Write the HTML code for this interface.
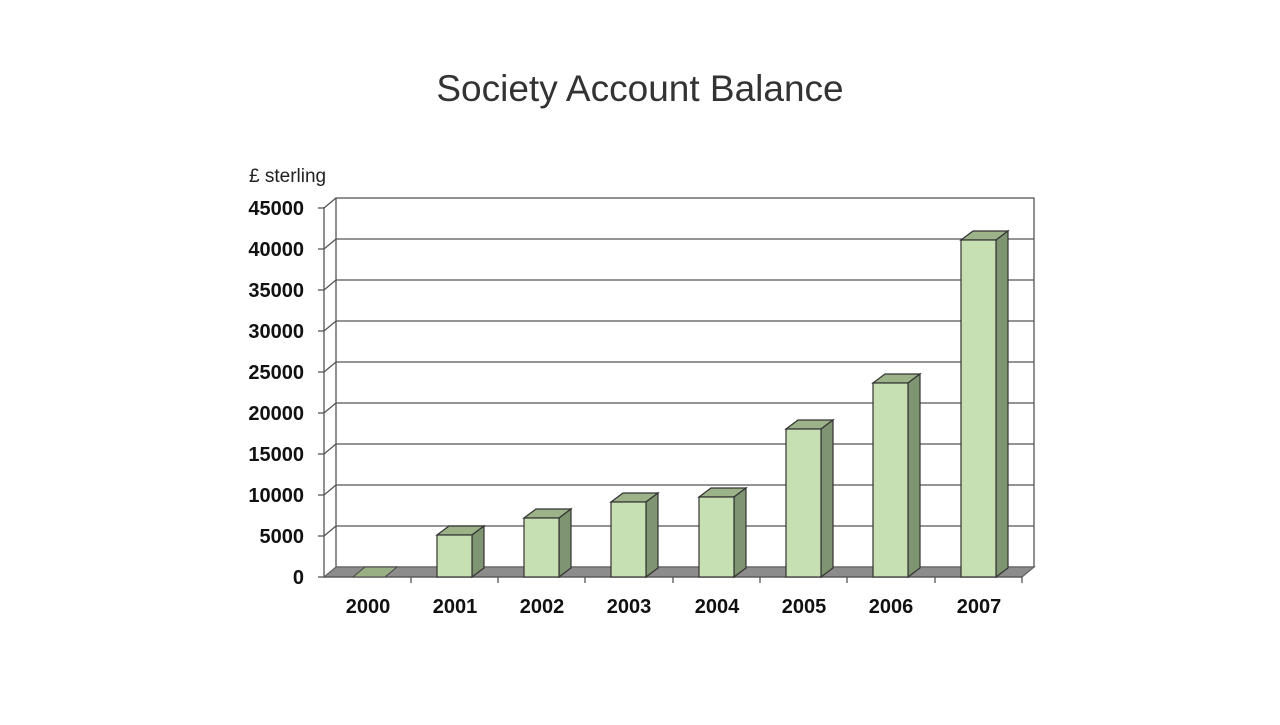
<!DOCTYPE html>
<html><head><meta charset="utf-8"><style>
body{margin:0;background:#fff;}
svg text{font-family:"Liberation Sans",Arial,sans-serif;}
</style></head><body>
<svg width="1280" height="720" xmlns="http://www.w3.org/2000/svg">
<rect width="1280" height="720" fill="#fff"/>
<text x="640" y="101" text-anchor="middle" font-size="37" fill="#333">Society Account Balance</text>
<text x="249" y="182" font-size="19" fill="#222">£ sterling</text>
<g id="grid" stroke="#555" stroke-width="1.3" fill="none">
<!-- back wall -->
<rect x="336" y="198" width="698" height="369"/>
<!-- floor -->
<polygon points="324,577 336,567 1034,567 1022,577" fill="#8c8c8c" stroke="#666"/>
<line x1="324" y1="207" x2="324" y2="577"/>
</g>
<g stroke="#555" stroke-width="1.3">
<line x1="324" y1="536" x2="336" y2="526"/><line x1="336" y1="526" x2="1034" y2="526"/>
<line x1="324" y1="495" x2="336" y2="485"/><line x1="336" y1="485" x2="1034" y2="485"/>
<line x1="324" y1="454" x2="336" y2="444"/><line x1="336" y1="444" x2="1034" y2="444"/>
<line x1="324" y1="413" x2="336" y2="403"/><line x1="336" y1="403" x2="1034" y2="403"/>
<line x1="324" y1="372" x2="336" y2="362"/><line x1="336" y1="362" x2="1034" y2="362"/>
<line x1="324" y1="331" x2="336" y2="321"/><line x1="336" y1="321" x2="1034" y2="321"/>
<line x1="324" y1="290" x2="336" y2="280"/><line x1="336" y1="280" x2="1034" y2="280"/>
<line x1="324" y1="249" x2="336" y2="239"/><line x1="336" y1="239" x2="1034" y2="239"/>
<line x1="324" y1="208" x2="336" y2="198"/>
<line x1="318" y1="577" x2="324" y2="577"/><line x1="318" y1="536" x2="324" y2="536"/><line x1="318" y1="495" x2="324" y2="495"/><line x1="318" y1="454" x2="324" y2="454"/><line x1="318" y1="413" x2="324" y2="413"/><line x1="318" y1="372" x2="324" y2="372"/><line x1="318" y1="331" x2="324" y2="331"/><line x1="318" y1="290" x2="324" y2="290"/><line x1="318" y1="249" x2="324" y2="249"/><line x1="318" y1="208" x2="324" y2="208"/>
<line x1="324" y1="577" x2="1022" y2="577"/>
<line x1="411" y1="577" x2="411" y2="583"/><line x1="498" y1="577" x2="498" y2="583"/><line x1="585" y1="577" x2="585" y2="583"/><line x1="673" y1="577" x2="673" y2="583"/><line x1="760" y1="577" x2="760" y2="583"/><line x1="847" y1="577" x2="847" y2="583"/><line x1="935" y1="577" x2="935" y2="583"/><line x1="1022" y1="577" x2="1022" y2="583"/>
</g>
<!-- 2000 flat -->
<polygon points="353,577 365,567 397,567 385,577" fill="#98b084" stroke="#444" stroke-width="1"/>
<g stroke="#333" stroke-width="1.2">
<!-- bar template: front x..x+35, top y -->
<polygon points="437,535 449,526 484,526 472,535" fill="#9cb38a"/><polygon points="472,535 484,526 484,568 472,577" fill="#7f9470"/><rect x="437" y="535" width="35" height="42" fill="#c6e0b4"/>
<polygon points="524,518 536,509 571,509 559,518" fill="#9cb38a"/><polygon points="559,518 571,509 571,568 559,577" fill="#7f9470"/><rect x="524" y="518" width="35" height="59" fill="#c6e0b4"/>
<polygon points="611,502 623,493 658,493 646,502" fill="#9cb38a"/><polygon points="646,502 658,493 658,568 646,577" fill="#7f9470"/><rect x="611" y="502" width="35" height="75" fill="#c6e0b4"/>
<polygon points="699,497 711,488 746,488 734,497" fill="#9cb38a"/><polygon points="734,497 746,488 746,568 734,577" fill="#7f9470"/><rect x="699" y="497" width="35" height="80" fill="#c6e0b4"/>
<polygon points="786,429 798,420 833,420 821,429" fill="#9cb38a"/><polygon points="821,429 833,420 833,568 821,577" fill="#7f9470"/><rect x="786" y="429" width="35" height="148" fill="#c6e0b4"/>
<polygon points="873,383 885,374 920,374 908,383" fill="#9cb38a"/><polygon points="908,383 920,374 920,568 908,577" fill="#7f9470"/><rect x="873" y="383" width="35" height="194" fill="#c6e0b4"/>
<polygon points="961,240 973,231 1008,231 996,240" fill="#9cb38a"/><polygon points="996,240 1008,231 1008,568 996,577" fill="#7f9470"/><rect x="961" y="240" width="35" height="337" fill="#c6e0b4"/>
</g>
<g font-size="20" font-weight="bold" fill="#111" text-anchor="end">
<text x="304" y="584">0</text><text x="304" y="543">5000</text><text x="304" y="502">10000</text><text x="304" y="461">15000</text><text x="304" y="420">20000</text><text x="304" y="379">25000</text><text x="304" y="338">30000</text><text x="304" y="297">35000</text><text x="304" y="256">40000</text><text x="304" y="215">45000</text>
</g>
<g font-size="20" font-weight="bold" fill="#111" text-anchor="middle">
<text x="368" y="613">2000</text><text x="455" y="613">2001</text><text x="542" y="613">2002</text><text x="629" y="613">2003</text><text x="717" y="613">2004</text><text x="804" y="613">2005</text><text x="891" y="613">2006</text><text x="979" y="613">2007</text>
</g>
</svg>
</body></html>
